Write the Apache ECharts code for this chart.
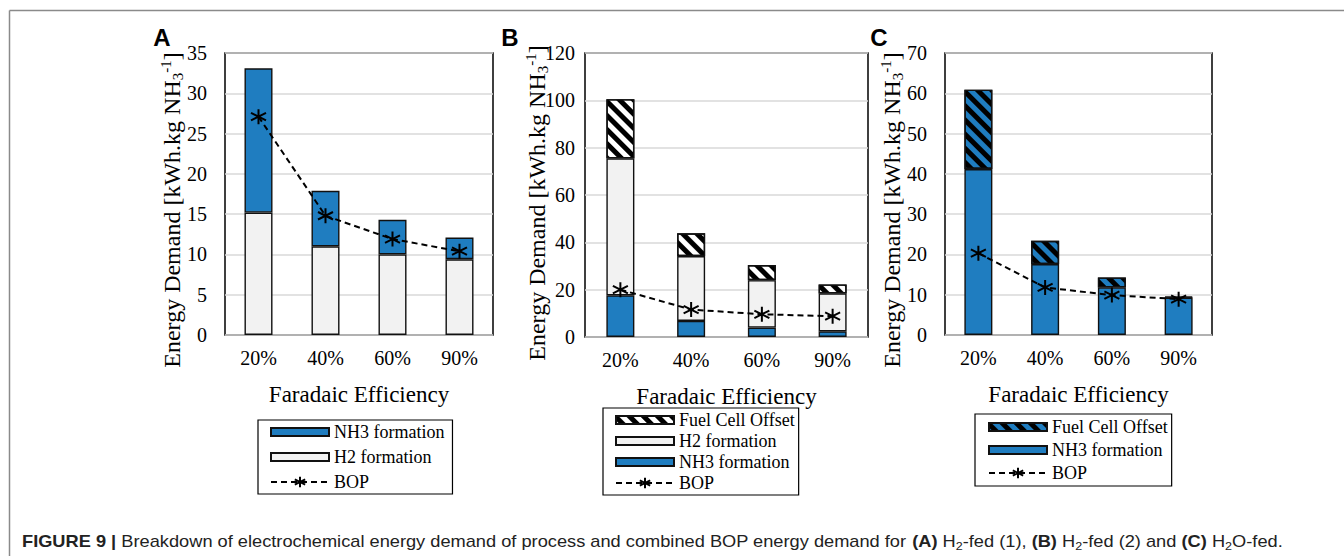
<!DOCTYPE html>
<html><head><meta charset="utf-8">
<script src="https://cdn.jsdelivr.net/npm/echarts@6/dist/echarts.min.js"></script>
<style>html,body{margin:0;padding:0;background:#fff}#c{width:1344px;height:556px}</style>
</head><body><div id="c"></div>
<script>
// ---------- data ----------
const categories = ['20%', '40%', '60%', '90%'];
// Panel A : H2-fed (1)
const aH2 = [15.2, 11.0, 10.0, 9.4];
const aNH3 = [17.9, 6.9, 4.3, 2.7];
const aBOP = [27.1, 14.8, 11.9, 10.4];
// Panel B : H2-fed (2)
const bNH3 = [17.6, 6.8, 4.0, 2.4];
const bH2 = [57.9, 27.4, 20.0, 16.0];
const bFC = [25.0, 9.6, 6.4, 3.8];
const bBOP = [20.0, 11.6, 9.6, 8.8];
// Panel C : H2O-fed
const cNH3 = [41.2, 17.6, 11.8, 9.3];
const cFC = [19.7, 5.8, 2.5, 0.2];
const cBOP = [20.3, 11.8, 9.9, 8.9];
// axis ranges [max, interval]
const yAxisA = [35, 5];
const yAxisB = [120, 20];
const yAxisC = [70, 10];

// ---------- style ----------
const BLUE = '#1f7dc0';
const LGRAY = '#f2f2f2';
const SERIF = '"Liberation Serif","DejaVu Serif",serif';
const SANS = '"Liberation Sans",Arial,sans-serif';
const STAR = 'path://M5,0L5,10M0.7,2.5L9.3,7.5M0.7,7.5L9.3,2.5';
const RECT_ICON = 'path://M0,0L58,0L58,8L0,8Z';
const hatch = {symbol: 'rect', symbolSize: 1, dashArrayX: [1, 0], dashArrayY: [4.5, 4.5], rotation: Math.PI / 4, color: '#000'};

const grids = [
  {left: 225, top: 53, width: 268, height: 282},
  {left: 585, top: 53, width: 283, height: 284},
  {left: 945, top: 53, width: 267, height: 282}
];
const yRanges = [yAxisA, yAxisB, yAxisC];
const labelMargins = [18, 10, 18];

const chart = echarts.init(document.getElementById('c'), null, {renderer: 'svg'});

const barStyle = (color, decal) => {
  const s = {color: color, borderColor: '#111', borderWidth: 1.4};
  if (decal) s.decal = decal;
  return s;
};
function bar(name, idx, data, color, decal) {
  return {type: 'bar', name: name, xAxisIndex: idx, yAxisIndex: idx, stack: 's' + idx, data: data,
    barWidth: 28, itemStyle: barStyle(color, decal), emphasis: {disabled: true}, animation: false};
}
function bop(name, idx, data) {
  return {type: 'line', name: name, xAxisIndex: idx, yAxisIndex: idx, data: data, z: 5,
    symbol: STAR, symbolSize: 15, showSymbol: true,
    lineStyle: {color: '#000', width: 2, type: [6, 4]},
    itemStyle: {color: '#000', borderColor: '#000', borderWidth: 2},
    emphasis: {disabled: true}, animation: false};
}
function legend(left, top, names, gap, pad) {
  return {left: left, top: top, orient: 'vertical', selectedMode: false,
    data: names.map(n => n.startsWith('BOP') ? {name: n} : {name: n, icon: RECT_ICON}),
    itemWidth: 58, itemHeight: 13, itemGap: gap, itemTextGap: 7,
    borderColor: '#000', borderWidth: 1.2, padding: pad, backgroundColor: '#fff',
    textStyle: {fontFamily: SERIF, fontSize: 18, color: '#000'},
    formatter: n => n.split('#')[0]};
}
function yName(x, y) {
  return {type: 'text', x: x, y: y, rotation: Math.PI / 2, silent: true,
    style: {text: 'Energy Demand [kWh.kg NH{sub|3}{sup|-1}]', align: 'center', verticalAlign: 'middle',
      fontFamily: SERIF, fontSize: 24, lineHeight: 30, fill: '#000',
      rich: {sub: {fontFamily: SERIF, fontSize: 15, lineHeight: 15, verticalAlign: 'bottom', padding: [0, 0, 2, 0]},
             sup: {fontFamily: SERIF, fontSize: 15, lineHeight: 15, verticalAlign: 'top', padding: [1, 0, 0, 0]}}}};
}
function letter(t, x, y) {
  return {type: 'text', x: x, y: y, silent: true,
    style: {text: t, fontFamily: SANS, fontWeight: 'bold', fontSize: 24, fill: '#000', align: 'center', verticalAlign: 'middle'}};
}

const option = {
  backgroundColor: '#fff',
  animation: false,
  grid: grids.map(g => Object.assign({show: true, borderColor: '#000', borderWidth: 1.5, backgroundColor: 'transparent', outerBoundsMode: 'none'}, g)),
  xAxis: grids.map((g, i) => ({type: 'category', gridIndex: i, data: categories,
    axisLine: {show: false}, axisTick: {show: false},
    axisLabel: {fontFamily: SERIF, fontSize: 20, color: '#000', margin: 13},
    name: 'Faradaic Efficiency', nameLocation: 'middle', nameGap: 48,
    nameTextStyle: {fontFamily: SERIF, fontSize: 23, color: '#000'}})),
  yAxis: grids.map((g, i) => ({type: 'value', gridIndex: i, min: 0, max: yRanges[i][0], interval: yRanges[i][1],
    axisLine: {show: false}, axisTick: {show: false},
    axisLabel: {fontFamily: SERIF, fontSize: 20, color: '#000', margin: labelMargins[i]},
    splitLine: {lineStyle: {color: '#d9d9d9', width: 1.5}}})),
  legend: [
    legend(258, 420, ['NH3 formation#A', 'H2 formation#A', 'BOP#A'], 7, [3, 8, 3, 12]),
    legend(603, 408, ['Fuel Cell Offset#B', 'H2 formation#B', 'NH3 formation#B', 'BOP#B'], 3, [3, 4, 3, 12]),
    legend(975, 414, ['Fuel Cell Offset#C', 'NH3 formation#C', 'BOP#C'], 5, [4, 4, 4, 13])
  ],
  series: [
    bar('H2 formation#A', 0, aH2, LGRAY),
    bar('NH3 formation#A', 0, aNH3, BLUE),
    bop('BOP#A', 0, aBOP),
    bar('NH3 formation#B', 1, bNH3, BLUE),
    bar('H2 formation#B', 1, bH2, LGRAY),
    bar('Fuel Cell Offset#B', 1, bFC, '#fff', hatch),
    bop('BOP#B', 1, bBOP),
    bar('NH3 formation#C', 2, cNH3, BLUE),
    bar('Fuel Cell Offset#C', 2, cFC, BLUE, hatch),
    bop('BOP#C', 2, cBOP)
  ],
  graphic: [
    {type: 'line', silent: true, shape: {x1: 9.5, y1: 10.5, x2: 1344, y2: 10.5}, style: {stroke: '#8a8a8a', lineWidth: 1.5}},
    {type: 'line', silent: true, shape: {x1: 9.5, y1: 10.5, x2: 9.5, y2: 556}, style: {stroke: '#8a8a8a', lineWidth: 1.5}},
    letter('A', 162, 37), letter('B', 510, 37), letter('C', 879, 37),
    yName(172, 210), yName(537, 203), yName(892, 210),
    {type: 'text', x: 22, y: 541, scaleX: 1.14, silent: true,
      style: {text: '{b|FIGURE 9 |} Breakdown of electrochemical energy demand of process and combined BOP energy demand for {b|(A)} H{s|2}-fed (1), {b|(B)} H{s|2}-fed (2) and {b|(C)} H{s|2}O-fed.',
        fontFamily: SANS, fontSize: 16, lineHeight: 20, fill: '#222', verticalAlign: 'middle',
        rich: {b: {fontFamily: SANS, fontSize: 16, fontWeight: 'bold', lineHeight: 20, fill: '#222'},
               s: {fontFamily: SANS, fontSize: 11, lineHeight: 11, verticalAlign: 'bottom', fill: '#222'}}}}
  ]
};
chart.setOption(option);
</script>
</body></html>
